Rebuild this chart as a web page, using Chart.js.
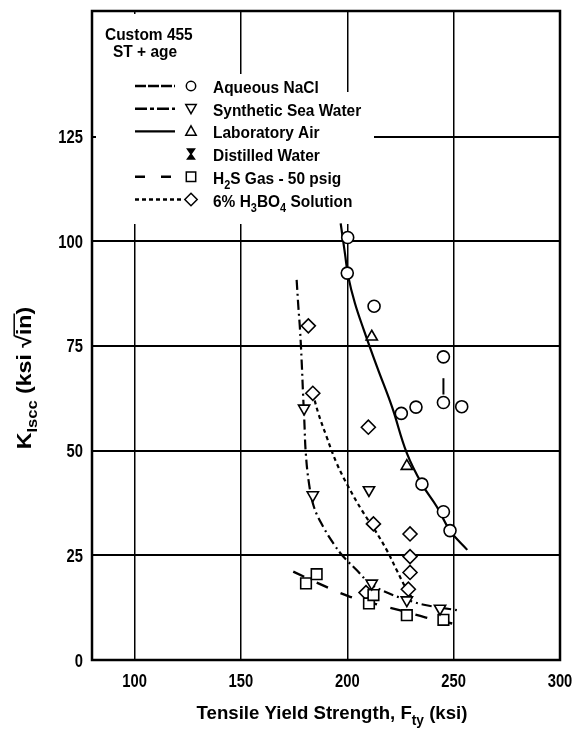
<!DOCTYPE html>
<html>
<head>
<meta charset="utf-8">
<script src="https://cdn.jsdelivr.net/npm/chart.js@4.4.0/dist/chart.umd.min.js"></script>
<style>
  html, body { margin: 0; padding: 0; background: #fff; }
  canvas { display: block; }
</style>
</head>
<body>
<canvas id="chart" width="576" height="734"></canvas>
<script>
const FONT = "'Liberation Sans', Arial, sans-serif";

// Axis ticks
const xTickValues = [100, 150, 200, 250, 300];
const yTickValues = [0, 25, 50, 75, 100, 125];

// Test results: tensile yield strength (ksi) and K_Iscc (ksi sqrt(in))
const naclX = [200.2, 200.0, 212.6, 245.2, 225.4, 232.3, 245.2, 253.8, 235.1, 245.2, 248.3];
const naclY = [100.9, 92.4, 84.5, 72.4, 58.9, 60.4, 61.5, 60.5, 42.0, 35.4, 30.9];

const seaWaterX = [179.7, 183.8, 210.2, 211.5, 228.0, 243.6];
const seaWaterY = [60.1, 39.4, 40.6, 18.3, 14.3, 12.3];

const labAirX = [211.5, 228.0];
const labAirY = [77.2, 46.3];

const h2sX = [180.6, 185.6, 210.2, 212.3, 228.0, 245.2];
const h2sY = [18.3, 20.5, 13.5, 15.5, 10.7, 9.6];

const boricX = [181.7, 183.8, 209.9, 212.3, 229.5, 229.5, 229.5, 228.7, 208.8];
const boricY = [79.8, 63.7, 55.6, 32.5, 30.1, 24.7, 20.9, 16.9, 16.1];

// Run-out marker above one NaCl result
const runoutX = [245.2, 245.2];
const runoutY = [63.4, 67.3];

// Trend curves
const naclFitX = [196.9, 198.9, 200.5, 203.6, 207.8, 214.0, 221.0, 228.0, 235.1, 242.1, 248.3, 256.4];
const naclFitY = [104.3, 97.1, 91.5, 85.2, 78.8, 70.0, 60.5, 49.4, 42.0, 36.6, 30.9, 26.3];

const seaFitX = [176.2, 177.0, 177.8, 178.6, 179.2, 179.8, 180.5, 182.0, 184.3, 188.7, 193.4, 198.1, 204.4, 210.7, 220.0, 228.5, 236.0, 251.5];
const seaFitY = [90.8, 84.4, 78.8, 70.9, 63.7, 57.3, 49.4, 42.2, 36.6, 31.8, 27.9, 24.7, 21.5, 18.3, 15.8, 14.3, 13.2, 11.9];

const h2sFitX = [174.6, 189.1, 201.3, 212.3, 224.5, 236.6, 252.2];
const h2sFitY = [21.1, 17.7, 15.1, 13.5, 11.9, 10.2, 8.4];

const boricFitX = [183.8, 186.4, 190.3, 195.0, 200.5, 206.8, 213.0, 218.5, 223.2, 227.2, 231.1];
const boricFitY = [63.7, 58.9, 53.3, 47.0, 41.4, 35.8, 31.0, 26.3, 21.5, 17.5, 14.3];

// Legend content
const legendTitle = ['Custom 455', 'ST + age'];
const legendNames = [
  [{ t: 'Aqueous NaCl' }],
  [{ t: 'Synthetic Sea Water' }],
  [{ t: 'Laboratory Air' }],
  [{ t: 'Distilled Water' }],
  [{ t: 'H' }, { t: '2', sub: true }, { t: 'S Gas - 50 psig' }],
  [{ t: '6% H' }, { t: '3', sub: true }, { t: 'BO' }, { t: '4', sub: true }, { t: ' Solution' }]
];
const legendDashes = [[11, 2], [12, 3, 4, 3], [], null, [10, 16], [4, 3]];
const legendMarkers = ['circle', 'triangleDown', 'triangle', 'hourglass', 'rect', 'diamond'];

const xTitle = [{ t: 'Tensile Yield Strength, F' }, { t: 'ty', sub: true }, { t: ' (ksi)' }];
const yTitle = [{ t: 'K' }, { t: 'Iscc', sub: true }, { t: ' (ksi ' }, { t: '\u221A' }, { t: 'in', over: true }, { t: ')' }];

const pts = (xs, ys) => xs.map((x, i) => ({ x, y: ys[i] }));

function markerSet(label, xs, ys, style, radius, rotation) {
  return {
    label, data: pts(xs, ys), pointStyle: style, pointRadius: radius, pointRotation: rotation || 0,
    pointBackgroundColor: '#fff', pointBorderColor: '#000', pointBorderWidth: 1.6, showLine: false
  };
}
function curveSet(label, xs, ys, dash, width) {
  return {
    label, data: pts(xs, ys), showLine: true, pointRadius: 0, borderColor: '#000',
    borderWidth: width, borderDash: dash, tension: 0.4, fill: false
  };
}

// Bold text, horizontally scaled by `squeeze`, with optional subscripts and overlines.
function drawRich(ctx, parts, x, y, size, align, squeeze) {
  const k = squeeze || 1;
  const fontFor = p => `bold ${p.sub ? Math.round(size * 0.72) : size}px ${FONT}`;
  let total = 0;
  const widths = parts.map(p => { ctx.font = fontFor(p); const w = ctx.measureText(p.t).width; total += w; return w; });
  let start = 0;
  if (align === 'center') start = -total * k / 2;
  else if (align === 'right') start = -total * k;
  ctx.save();
  ctx.translate(x + start, y);
  ctx.scale(k, 1);
  ctx.textAlign = 'left';
  ctx.textBaseline = 'alphabetic';
  let cx = 0;
  parts.forEach((p, i) => {
    ctx.font = fontFor(p);
    ctx.fillText(p.t, cx, p.sub ? size * 0.3 : 0);
    if (p.over) {
      ctx.lineWidth = 1.5;
      ctx.beginPath();
      ctx.moveTo(cx - 1, -size * 0.8);
      ctx.lineTo(cx + widths[i] + 1, -size * 0.8);
      ctx.stroke();
    }
    cx += widths[i];
  });
  ctx.restore();
}

function drawMarker(ctx, style, x, y) {
  ctx.save();
  ctx.fillStyle = '#fff';
  ctx.strokeStyle = '#000';
  ctx.lineWidth = 1.5;
  ctx.beginPath();
  if (style === 'circle') {
    ctx.arc(x, y, 4.7, 0, Math.PI * 2);
  } else if (style === 'triangle') {
    ctx.moveTo(x, y - 5.5); ctx.lineTo(x + 5.2, y + 3.8); ctx.lineTo(x - 5.2, y + 3.8); ctx.closePath();
  } else if (style === 'triangleDown') {
    ctx.moveTo(x, y + 5); ctx.lineTo(x + 5.2, y - 4.2); ctx.lineTo(x - 5.2, y - 4.2); ctx.closePath();
  } else if (style === 'rect') {
    ctx.rect(x - 4.7, y - 4.7, 9.4, 9.4);
  } else if (style === 'diamond') {
    ctx.moveTo(x, y - 6.2); ctx.lineTo(x + 6.2, y); ctx.lineTo(x, y + 6.2); ctx.lineTo(x - 6.2, y); ctx.closePath();
  } else if (style === 'hourglass') {
    ctx.fillStyle = '#000';
    ctx.moveTo(x - 3.5, y - 5); ctx.lineTo(x + 3.5, y - 5); ctx.lineTo(x - 3.5, y + 5); ctx.lineTo(x + 3.5, y + 5); ctx.closePath();
  }
  ctx.fill();
  ctx.stroke();
  ctx.restore();
}

const framePlugin = {
  id: 'framePlugin',
  beforeDatasetsDraw(chart) {
    const ctx = chart.ctx;
    ctx.save();
    // white panel behind the legend block
    ctx.fillStyle = '#fff';
    ctx.beginPath();
    ctx.moveTo(96, 14); ctx.lineTo(226, 14); ctx.lineTo(226, 74); ctx.lineTo(340, 74);
    ctx.lineTo(340, 92); ctx.lineTo(374, 92); ctx.lineTo(374, 224); ctx.lineTo(96, 224);
    ctx.closePath();
    ctx.fill();

    ctx.fillStyle = '#000';
    ctx.strokeStyle = '#000';
    drawRich(ctx, [{ t: legendTitle[0] }], 105, 40, 17, 'left', 0.91);
    drawRich(ctx, [{ t: legendTitle[1] }], 113, 57, 17, 'left', 0.91);

    legendNames.forEach((parts, i) => {
      const base = 93 + i * 22.7;
      const cy = base - 7;
      if (legendDashes[i]) {
        ctx.save();
        ctx.lineWidth = 2.4;
        ctx.setLineDash(legendDashes[i]);
        ctx.beginPath();
        ctx.moveTo(135, cy);
        ctx.lineTo(i === 5 ? 184 : 175, cy);
        ctx.stroke();
        ctx.restore();
      }
      drawMarker(ctx, legendMarkers[i], 191, cy);
      ctx.fillStyle = '#000';
      drawRich(ctx, parts, 213, base, 17, 'left', 0.91);
    });
    ctx.restore();
  },
  afterDraw(chart) {
    const ctx = chart.ctx;
    const a = chart.chartArea;
    const xs = chart.scales.x;
    const ys = chart.scales.y;
    ctx.save();
    ctx.strokeStyle = '#000';
    ctx.lineWidth = 2.5;
    ctx.strokeRect(a.left, a.top, a.right - a.left, a.bottom - a.top);

    ctx.fillStyle = '#000';
    // tick labels placed through the scales
    xs.ticks.forEach(t => {
      drawRich(ctx, [{ t: String(t.value) }], xs.getPixelForValue(t.value), a.bottom + 27, 18, 'center', 0.82);
    });
    ys.ticks.forEach(t => {
      drawRich(ctx, [{ t: String(t.value) }], a.left - 9, ys.getPixelForValue(t.value) + 6.5, 18, 'right', 0.82);
    });

    drawRich(ctx, xTitle, 332, 719, 19, 'center', 0.98);

    ctx.translate(24, 378);
    ctx.rotate(-Math.PI / 2);
    drawRich(ctx, yTitle, 0, 7, 21, 'center', 1.1);
    ctx.restore();
  }
};

new Chart(document.getElementById('chart'), {
  type: 'scatter',
  data: {
    datasets: [
      markerSet('Aqueous NaCl', naclX, naclY, 'circle', 6),
      markerSet('Synthetic Sea Water', seaWaterX, seaWaterY, 'triangle', 6.5, 180),
      markerSet('Laboratory Air', labAirX, labAirY, 'triangle', 6.5),
      markerSet('H2S Gas - 50 psig', h2sX, h2sY, 'rect', 7.5),
      markerSet('6% H3BO4 Solution', boricX, boricY, 'rectRot', 7),
      curveSet('run-out', runoutX, runoutY, [], 2),
      curveSet('Aqueous NaCl fit', naclFitX, naclFitY, [], 2.2),
      curveSet('Synthetic Sea Water fit', seaFitX, seaFitY, [10, 4, 2, 4], 2.2),
      curveSet('H2S fit', h2sFitX, h2sFitY, [12, 14], 2.4),
      curveSet('H3BO4 fit', boricFitX, boricFitY, [4, 3.5], 2.2)
    ]
  },
  options: {
    responsive: false,
    animation: false,
    devicePixelRatio: 1,
    layout: { padding: { left: 0, top: 11, right: 16, bottom: 0 } },
    plugins: { legend: { display: false }, tooltip: { enabled: false } },
    scales: {
      x: {
        type: 'linear', min: 80, max: 300,
        afterBuildTicks: s => { s.ticks = xTickValues.map(v => ({ value: v })); },
        afterFit: s => { s.height = 74; s.paddingLeft = 0; s.paddingRight = 0; },
        grid: { color: '#000', lineWidth: 1.5, drawTicks: false },
        border: { display: false },
        ticks: { display: false }
      },
      y: {
        type: 'linear', min: 0, max: 155,
        afterBuildTicks: s => { s.ticks = yTickValues.map(v => ({ value: v })); },
        afterFit: s => { s.width = 92; s.paddingTop = 0; s.paddingBottom = 0; },
        grid: { color: '#000', lineWidth: 2, drawTicks: false },
        border: { display: false },
        ticks: { display: false }
      }
    }
  },
  plugins: [framePlugin]
});
</script>
</body>
</html>
